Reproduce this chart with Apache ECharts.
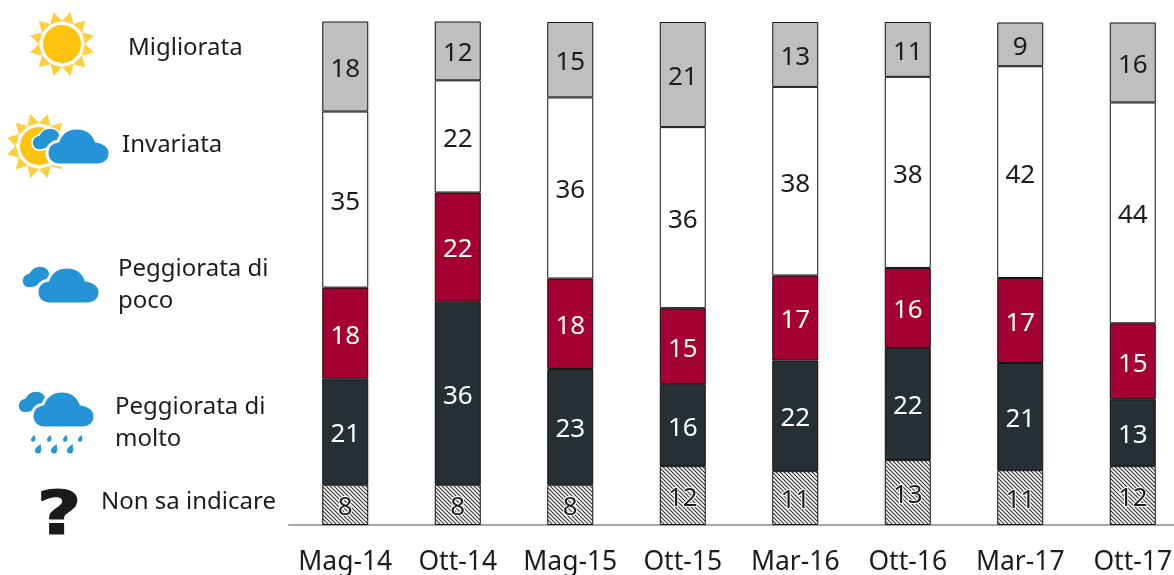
<!DOCTYPE html>
<html>
<head>
<meta charset="utf-8">
<style>html,body{margin:0;padding:0;background:#fff}#main{width:1174px;height:575px}</style>
<script src="https://cdn.jsdelivr.net/npm/echarts@6/dist/echarts.min.js"></script>
</head>
<body>
<div id="main"></div>
<script>
var categories = ['Mag-14', 'Ott-14', 'Mag-15', 'Ott-15', 'Mar-16', 'Ott-16', 'Mar-17', 'Ott-17'];
// heights, the printed labels are these rounded
var nonSa = [8, 8, 8, 11.7, 10.7, 12.9, 10.9, 11.7];
var molto = [21.1, 36.4, 23, 16.3, 22, 22.3, 21.3, 13.3];
var poco = [18.1, 21.7, 18, 15.1, 16.9, 15.9, 16.9, 15.1];
var invariata = [35, 22.3, 36, 36, 37.5, 38, 42.1, 43.9];
var migliorata = [17.9, 11.7, 15, 20.9, 12.9, 10.9, 8.7, 15.9];

var FONT = '"Noto Sans", sans-serif';
var SUN = '#FFC20E', BLUE = '#2494D6', INK = '#1c1c1c';

// diagonal hatch for the bottom segment
var hatch = document.createElement('canvas');
hatch.width = 4;
hatch.height = 4;
var ctx = hatch.getContext('2d');
ctx.fillStyle = '#fff';
ctx.fillRect(0, 0, 4, 4);
ctx.strokeStyle = '#333';
ctx.lineWidth = 1.1;
ctx.beginPath();
ctx.moveTo(-2, 2); ctx.lineTo(2, 6);
ctx.moveTo(0, 0); ctx.lineTo(4, 4);
ctx.moveTo(2, -2); ctx.lineTo(6, 2);
ctx.stroke();

function seg(name, data, color, textColor, extra) {
    return {
        name: name,
        type: 'bar',
        stack: 'total',
        barWidth: 46,
        data: data,
        itemStyle: { color: color, borderColor: '#111', borderWidth: 1 },
        label: Object.assign({
            show: true,
            position: 'inside',
            offset: [0, 3],
            fontFamily: FONT,
            fontSize: 26,
            color: textColor,
            formatter: function (p) { return Math.round(p.value); }
        }, extra || {})
    };
}

// weather icons, drawn as graphic elements
echarts.graphic.registerShape('bigCloud', echarts.graphic.extendPath(
    'M13 37C5 37 0 32 0 25C0 18 5 14 11 13C14 5 21 0 30 0C39 0 46 5 49 13C57 14 63 19 63 25C63 32 58 37 50 37Z', {}));
echarts.graphic.registerShape('smallCloud', echarts.graphic.extendPath(
    'M7 22C3 22 0 19 0 15C0 11 3 8 7 7C9 3 13 0 18 0C24 0 28 4 28 8C28 12 24 15 20 16C17 20 12 22 7 22Z', {}));
echarts.graphic.registerShape('drop', echarts.graphic.extendPath(
    'M6 0C5 3 7 5 6 7A3 3 0 0 1 0 6C0 4 3 2 6 0Z', {}));

function sun(cx, cy) {
    var out = [{ type: 'circle', shape: { cx: cx, cy: cy, r: 19 }, style: { fill: SUN } }];
    for (var i = 0; i < 12; i++) {
        var a = (i + 0.5) * Math.PI / 6, w = 0.27;
        out.push({
            type: 'polygon',
            shape: { points: [
                [cx + 33 * Math.cos(a), cy + 33 * Math.sin(a)],
                [cx + 23 * Math.cos(a - w), cy + 23 * Math.sin(a - w)],
                [cx + 23 * Math.cos(a + w), cy + 23 * Math.sin(a + w)]
            ] },
            style: { fill: '#FFCF40' }
        });
    }
    return out;
}
function clouds(x, y, sx, sy) {
    return [
        { type: 'smallCloud', x: sx, y: sy, style: { fill: BLUE, stroke: '#fff', lineWidth: 1.5 } },
        { type: 'bigCloud', x: x, y: y, style: { fill: BLUE, stroke: '#fff', lineWidth: 3 } }
    ];
}
function label(x, y, text) {
    return {
        type: 'text', x: x, y: y,
        style: { text: text, fontFamily: FONT, fontSize: 24, fill: INK, lineHeight: 32, verticalAlign: 'top' }
    };
}

var drops = [];
[[31, 435, 0.7], [47, 435, 0.7], [63, 435, 0.7], [78, 435, 0.7], [35, 444, 1], [51, 444, 1], [67, 444, 1]].forEach(function (d) {
    drops.push({ type: 'drop', x: d[0], y: d[1], scaleX: d[2], scaleY: d[2], style: { fill: BLUE } });
});

var icons = []
    .concat(sun(62, 44))
    .concat(sun(39, 146))
    .concat(clouds(47, 128, 32, 128))
    .concat(clouds(37, 267, 22, 266))
    .concat(clouds(32, 391, 18, 391))
    .concat(drops)
    .concat([{
        type: 'text', x: 59, y: 518, scaleX: 1.3,
        originX: 0, originY: 0,
        style: { text: '?', fontFamily: '"DejaVu Sans", sans-serif', fontWeight: 'bold', fontSize: 60, fill: '#1a1a1a', stroke: '#1a1a1a', lineWidth: 1, align: 'center', verticalAlign: 'middle' }
    }])
    .concat([
        label(128, 32, 'Migliorata'),
        label(122, 129, 'Invariata'),
        label(118, 253, 'Peggiorata di\npoco'),
        label(115, 391, 'Peggiorata di\nmolto'),
        label(101, 486, 'Non sa indicare')
    ]);

var myChart = echarts.init(document.getElementById('main'));
var option = {
    animation: false,
    backgroundColor: '#fff',
    grid: { left: 289, top: 22, width: 900, height: 503, outerBoundsMode: 'none' },
    xAxis: {
        type: 'category',
        data: categories,
        axisLine: { lineStyle: { color: '#A6A6A6', width: 2 } },
        axisTick: { show: false },
        axisLabel: { interval: 0, margin: 24, fontFamily: FONT, fontSize: 26.5, color: INK }
    },
    yAxis: {
        type: 'value',
        min: 0,
        max: 100,
        show: false
    },
    series: [
        seg('Non sa indicare', nonSa, { image: hatch, repeat: 'repeat' }, INK, { textBorderColor: '#fff', textBorderWidth: 2 }),
        seg('Peggiorata di molto', molto, '#262F33', '#fff'),
        seg('Peggiorata di poco', poco, '#A50034', '#fff'),
        seg('Invariata', invariata, '#fff', INK),
        seg('Migliorata', migliorata, '#BFBFBF', INK)
    ],
    graphic: icons
};
option && myChart.setOption(option);
</script>
</body>
</html>
